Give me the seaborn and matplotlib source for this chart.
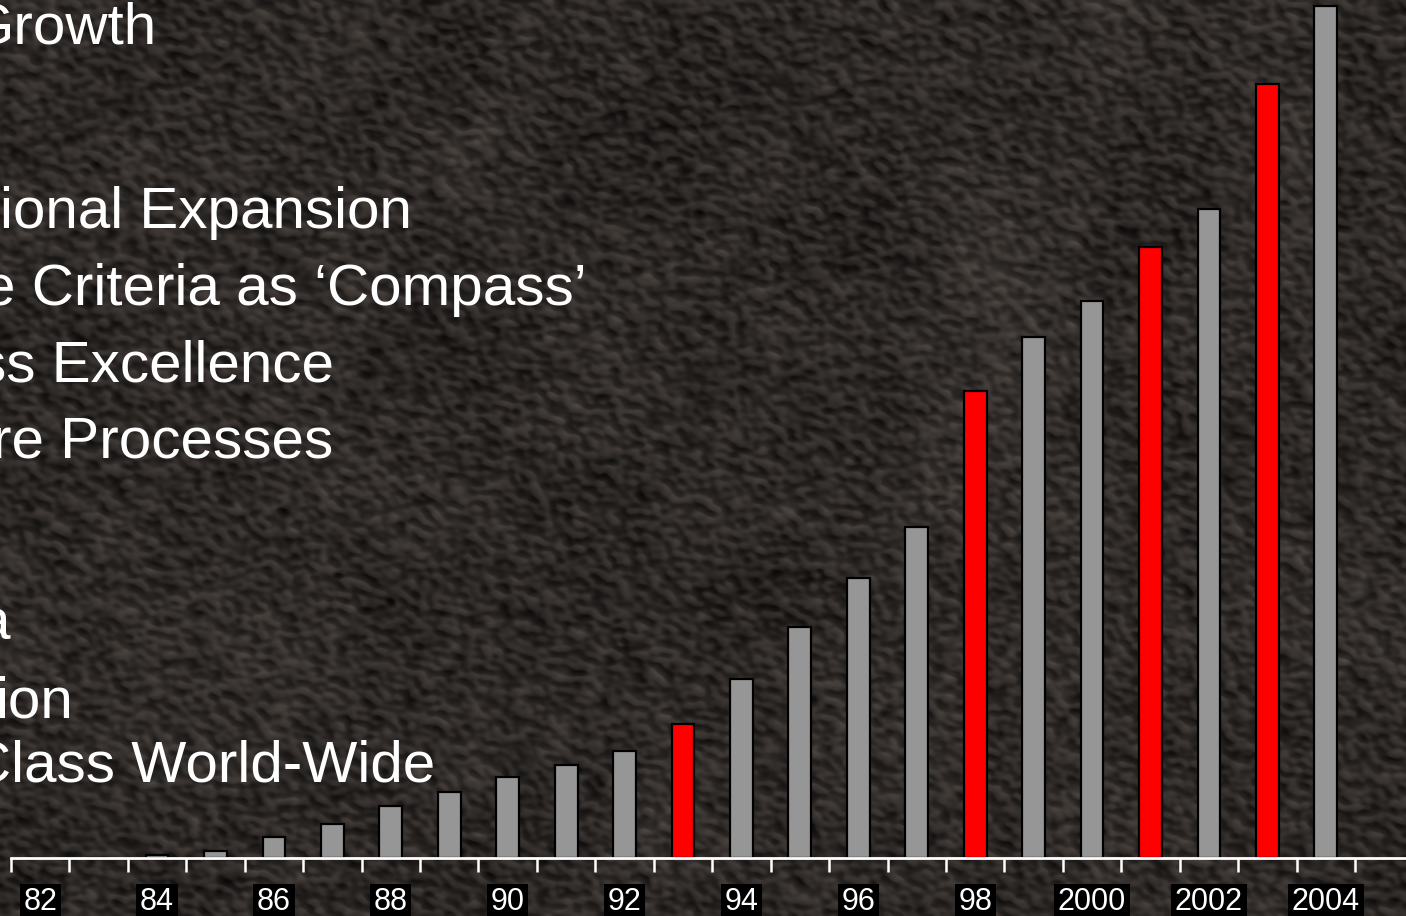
import numpy as np
import pandas as pd
import matplotlib
matplotlib.use("Agg")
import matplotlib.pyplot as plt
import seaborn as sns

# Yearly values (arbitrary units) and the highlighted years
years = ["82", "83", "84", "85", "86", "87", "88", "89", "90", "91", "92",
         "93", "94", "95", "96", "97", "98", "99", "2000", "2001", "2002",
         "2003", "2004"]
values = [0, 0, 3, 7, 21, 34, 52, 66, 81, 93, 107,
          134, 179, 231, 280, 331, 467, 521, 557, 611, 649,
          774, 852]
highlight_years = ["93", "98", "2001", "2003"]
tick_years = ["82", "84", "86", "88", "90", "92", "94", "96", "98",
              "2000", "2002", "2004"]

# Slide bullet lines running off the left edge: (text, x px, baseline px)
bullet_lines = [
    ("Growth", -32, 43),
    ("ional Expansion", 0, 228),
    ("e Criteria as \u2018Compass\u2019", -17, 305),
    ("ss Excellence", -23, 382),
    ("re Processes", -8, 457),
    ("a", -23, 640),
    ("ion", -5, 718),
    ("Class World-Wide", -31, 782),
]

W, H, DPI = 1406, 916, 100
GRAY = "#969696"
RED = "#ff0000"

sns.set_style("dark")
plt.rcParams["font.family"] = ["Liberation Sans", "DejaVu Sans"]

fig = plt.figure(figsize=(W / DPI, H / DPI), dpi=DPI, facecolor="#2d2926")

# Leathery dark backdrop: smoothed noise with an embossed relief
rng = np.random.default_rng(11)
noise = rng.standard_normal((H, W))
fy = np.fft.fftfreq(H)[:, None]
fx = np.fft.fftfreq(W)[None, :]
sx, sy = 3.6, 2.8
kernel = np.exp(-2 * (np.pi ** 2) * ((fx * sx) ** 2 + (fy * sy) ** 2))
field = np.real(np.fft.ifft2(np.fft.fft2(noise) * kernel))
field /= field.std()
gy, gx = np.gradient(field)
relief = (gx - 1.3 * gy)
relief /= relief.std()
coarse_kernel = np.exp(-2 * (np.pi ** 2) * ((fx * 40) ** 2 + (fy * 40) ** 2))
coarse = np.real(np.fft.ifft2(np.fft.fft2(rng.standard_normal((H, W))) * coarse_kernel))
coarse /= coarse.std()
lum = 41 + 13 * np.tanh(relief * 0.9) + 5 * field + 2.5 * coarse
base = np.array([1.10, 1.00, 0.94])
tex = np.clip(lum[..., None] * base[None, None, :], 0, 255) / 255.0
fig.figimage(tex, xo=0, yo=0, origin="upper", zorder=-10)

# Bar chart axes: baseline at y=858 px, first boundary at x=11 px
left_px, base_px = 11, 858
ax = fig.add_axes([left_px / W, (H - base_px) / H, (W - left_px) / W, base_px / H])
ax.set_zorder(5)
ax.set_facecolor("none")
ax.patch.set_alpha(0)

df = pd.DataFrame({"year": years, "value": values})
palette = {y: (RED if y in highlight_years else GRAY) for y in years}
sns.barplot(data=df, x="year", y="value", hue="year", palette=palette,
            width=0.39, edgecolor="black", linewidth=1.6, saturation=1,
            legend=False, ax=ax)

# Boundary tick marks and centred year labels
ax.set_xticks(np.arange(-0.5, len(years) + 0.6, 1.0))
ax.set_xticklabels([])
centres = [years.index(t) for t in tick_years]
ax.set_xticks(centres, tick_years, minor=True)
ax.tick_params(axis="x", which="major", direction="out", length=10, width=1.8,
               color="white", bottom=True)
ax.tick_params(axis="x", which="minor", length=0, pad=21, labelsize=22,
               labelcolor="white")
for lab in ax.get_xticklabels(minor=True):
    lab.set_bbox(dict(facecolor="black", edgecolor="none",
                      boxstyle="square,pad=0.12"))

# Limits last, so the tick placement does not widen the view
cat_px = (1355 - left_px) / 23.0
ax.set_xlim(-0.5, -0.5 + (W - left_px) / cat_px)
ax.set_ylim(0, base_px)

ax.set_yticks([])
ax.set_xlabel("")
ax.set_ylabel("")
ax.grid(False)
for side in ("top", "right", "left"):
    ax.spines[side].set_visible(False)
ax.spines["bottom"].set_color("white")
ax.spines["bottom"].set_linewidth(2)
ax.spines["bottom"].set_zorder(3)

for text, x_px, y_px in bullet_lines:
    fig.text(x_px / W, 1 - y_px / H, text, color="white", fontsize=42,
             ha="left", va="baseline", zorder=6)

fig.savefig("out.png", dpi=DPI, facecolor=fig.get_facecolor())
